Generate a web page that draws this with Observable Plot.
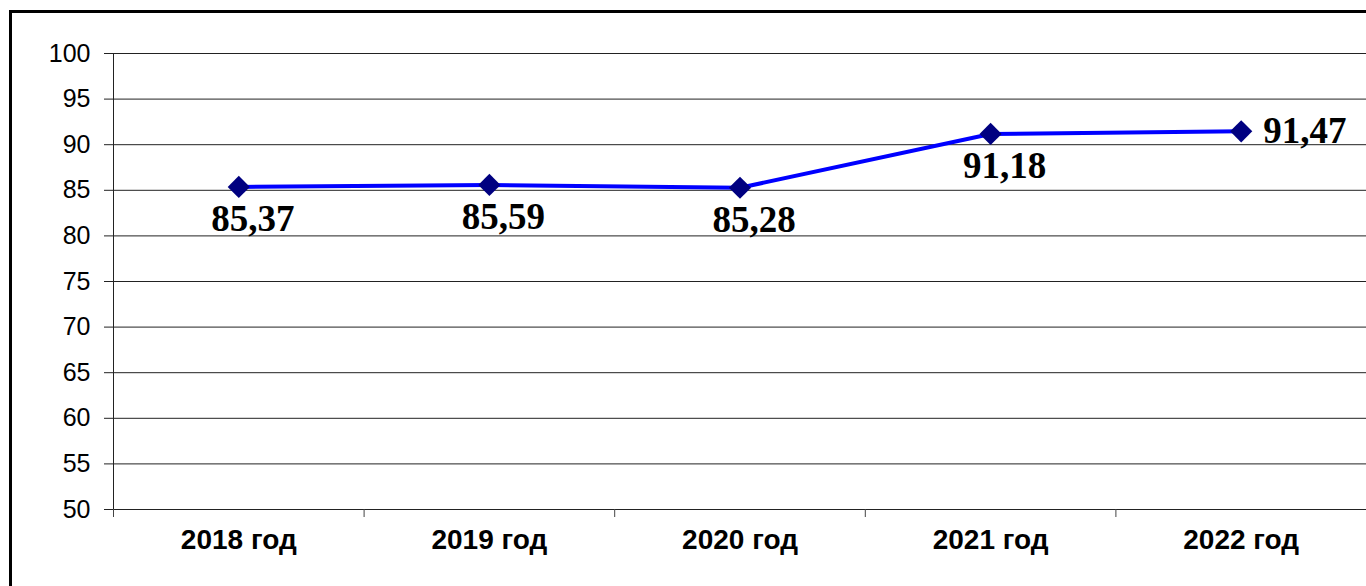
<!DOCTYPE html>
<html>
<head>
<meta charset="utf-8">
<script src="https://cdn.jsdelivr.net/npm/d3@7"></script>
<script src="https://cdn.jsdelivr.net/npm/@observablehq/plot@0.6"></script>
<style>
  html, body { margin: 0; padding: 0; background: #fff; overflow: hidden; }
  #wrap { position: relative; width: 1366px; height: 586px; }
  #frame { position: absolute; left: 9px; top: 10px; width: 1400px; height: 600px;
           border-left: 3px solid #000; border-top: 3px solid #000; pointer-events: none; }
  svg { display: block; }
</style>
</head>
<body>
<div id="wrap"><div id="frame"></div></div>
<script>
const categories = ["2018 год", "2019 год", "2020 год", "2021 год", "2022 год"];
const values = [85.37, 85.59, 85.28, 91.18, 91.47];
const yTicks = [50, 55, 60, 65, 70, 75, 80, 85, 90, 95, 100];

const fmt = v => d3.format(".2f")(v).replace(".", ",");
const rows = categories.map((c, i) => ({cat: c, pos: i + 0.5, v: values[i], label: fmt(values[i])}));
const below = rows.slice(0, rows.length - 1);
const last = rows.slice(rows.length - 1);

const chart = Plot.plot({
  width: 1366,
  height: 586,
  marginLeft: 113,
  marginRight: 0,
  marginTop: 53,
  marginBottom: 77,
  style: {background: "transparent", overflow: "visible"},
  x: {type: "linear", domain: [0, categories.length], axis: null, label: null},
  y: {domain: [50, 100], axis: null, label: null},
  marks: [
    Plot.gridY(yTicks, {stroke: "#222", strokeOpacity: 1, strokeWidth: 1}),
    Plot.axisY(yTicks, {label: null, tickSize: 9, tickPadding: 14, fontSize: 25, fontFamily: "Liberation Sans, Arial, sans-serif", color: "#000", stroke: "#222"}),
    Plot.ruleX([0], {stroke: "#222", strokeWidth: 1}),
    Plot.axisX(d3.range(categories.length + 1), {label: null, tickSize: 8, tickFormat: () => "", stroke: "#444"}),
    Plot.text(rows, {x: "pos", frameAnchor: "bottom", dy: 39, text: "cat", fontSize: 28, fontWeight: "bold", fontFamily: "Liberation Sans, Arial, sans-serif", fill: "#000"}),
    Plot.line(rows, {x: "pos", y: "v", stroke: "#0000FF", strokeWidth: 4}),
    Plot.dot(rows, {x: "pos", y: "v", symbol: "diamond2", r: 10, fill: "#000080", stroke: "none"}),
    Plot.text(below, {x: "pos", y: "v", text: "label", dx: 14, dy: 32, fontSize: 37, fontWeight: "bold", fontFamily: "Liberation Serif, Times New Roman, serif", fill: "#000"}),
    Plot.text(last, {x: "pos", y: "v", text: "label", dx: 22, textAnchor: "start", fontSize: 37, fontWeight: "bold", fontFamily: "Liberation Serif, Times New Roman, serif", fill: "#000"})
  ]
});
document.getElementById("wrap").insertBefore(chart, document.getElementById("frame"));
</script>
</body>
</html>
